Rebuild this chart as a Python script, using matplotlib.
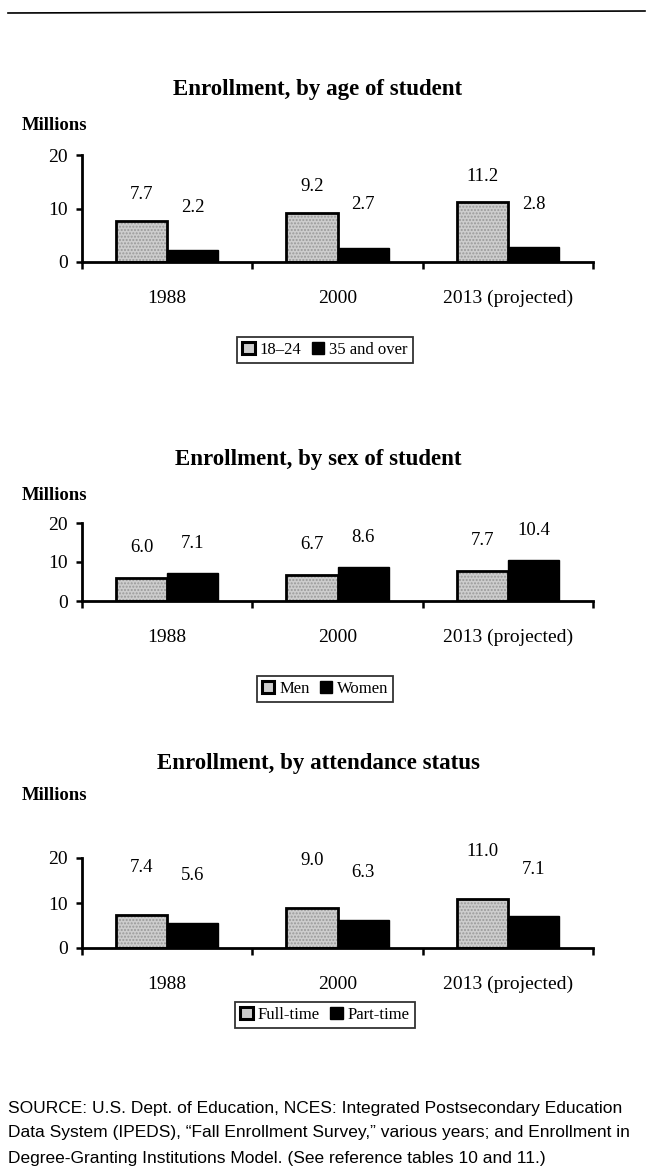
import numpy as np
import matplotlib
matplotlib.use('Agg')
import matplotlib.pyplot as plt
from matplotlib.patches import Patch
from matplotlib.lines import Line2D

# data
years = ['1988', '2000', '2013 (projected)']
age_18_24 = [7.7, 9.2, 11.2]
age_35_over = [2.2, 2.7, 2.8]
men = [6.0, 6.7, 7.7]
women = [7.1, 8.6, 10.4]
full_time = [7.4, 9.0, 11.0]
part_time = [5.6, 6.3, 7.1]

titles = ['Enrollment, by age of student',
          'Enrollment, by sex of student',
          'Enrollment, by attendance status']
legends = [['18\u201324', '35 and over'],
           ['Men', 'Women'],
           ['Full-time', 'Part-time']]
series = [(age_18_24, age_35_over), (men, women), (full_time, part_time)]
yticks = [0, 10, 20]

source_lines = ['SOURCE: U.S. Dept. of Education, NCES: Integrated Postsecondary Education',
                'Data System (IPEDS), \u201cFall Enrollment Survey,\u201d various years; and Enrollment in',
                'Degree-Granting Institutions Model. (See reference tables 10 and 11.)']

W, H = 649, 1170
serif = ['Liberation Serif', 'DejaVu Serif']
fig = plt.figure(figsize=(W / 100, H / 100), dpi=100)

def fy(py):
    return 1 - py / H

# panel layout in pixels: (axes top, axes bottom, title y, millions y, legend y)
panels = [(155, 262, 90, 126, 350),
          (523, 601, 460, 496, 689),
          (858, 948, 764, 796, 1015)]
label_off = [(26, 43), (30, 30), (47, 47)]
light = '#cdcdcd'
x0, x1 = 82, 593
bw = 0.30

for i, (top, bot, ty, my, ly) in enumerate(panels):
    ax = fig.add_axes([x0 / W, fy(bot), (x1 - x0) / W, (bot - top) / H])
    a, b = series[i]
    x = np.arange(len(years))
    ax.bar(x - bw / 2, a, bw, facecolor=light, edgecolor='#999999', hatch='.....', linewidth=0, zorder=2)
    ax.bar(x - bw / 2, a, bw, facecolor='none', edgecolor='black', linewidth=2.0, zorder=3)
    ax.bar(x + bw / 2, b, bw, facecolor='black', edgecolor='black', linewidth=1.0, zorder=2)
    for xi, v in zip(x, a):
        ax.annotate(f'{v:.1f}', (xi - bw / 2, v), xytext=(0, label_off[i][0]),
                    textcoords='offset pixels', ha='center', va='center',
                    fontsize=13.5, family=serif)
    for xi, v in zip(x, b):
        ax.annotate(f'{v:.1f}', (xi + bw / 2, v), xytext=(0, label_off[i][1]),
                    textcoords='offset pixels', ha='center', va='center',
                    fontsize=13.5, family=serif)
    ax.set_xlim(-0.5, 2.5)
    ax.set_ylim(0, 20)
    ax.set_yticks(yticks)
    ax.set_yticklabels([str(t) for t in yticks], family=serif, fontsize=14)
    ax.set_xticks([-0.5, 0.5, 1.5, 2.5])
    ax.set_xticklabels([])
    ax.set_xticks(x, minor=True)
    ax.set_xticklabels(years, minor=True, family=serif, fontsize=14)
    ax.tick_params(axis='x', which='minor', length=0, pad=20)
    ax.tick_params(axis='x', which='major', direction='out', length=5, width=1.8)
    ax.tick_params(axis='y', direction='out', length=4, width=1.8, pad=6)
    for s in ['top', 'right']:
        ax.spines[s].set_visible(False)
    for s in ['left', 'bottom']:
        ax.spines[s].set_linewidth(2.0)
    ax.set_facecolor('none')

    fig.text(0.49, fy(ty), titles[i], ha='center', va='center',
             fontsize=16.5, fontweight='bold', family=serif)
    fig.text(22 / W, fy(my), 'Millions', ha='left', va='center',
             fontsize=13.5, fontweight='bold', family=serif)
    handles = [Patch(facecolor=light, edgecolor='black', linewidth=2.2),
               Patch(facecolor='black', edgecolor='black')]
    leg = fig.legend(handles, legends[i], loc='center', bbox_to_anchor=(325 / W, fy(ly)),
                     ncol=2, frameon=True, fancybox=False, handlelength=0.75,
                     handleheight=0.75, handletextpad=0.3, columnspacing=0.6,
                     borderpad=0.3, prop={'family': serif, 'size': 12})
    leg.get_frame().set_edgecolor('black')
    leg.get_frame().set_linewidth(1.3)

fig.add_artist(Line2D([8 / W, 645 / W], [fy(13), fy(11)], color='black', linewidth=1.2))

for k, line in enumerate(source_lines):
    fig.text(8 / W, fy(1108 + 25 * k), line, ha='left', va='center', fontsize=12.5,
             family=['Liberation Sans', 'DejaVu Sans'])

fig.savefig('out.png', dpi=100)
